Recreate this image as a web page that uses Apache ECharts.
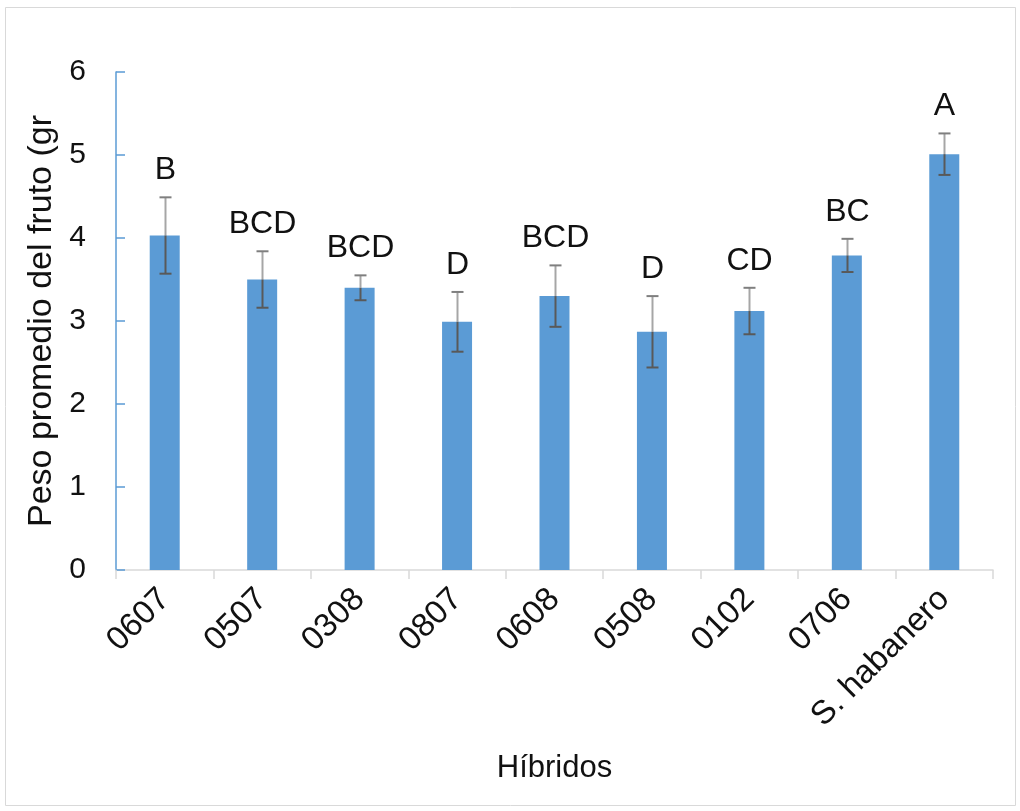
<!DOCTYPE html>
<html>
<head>
<meta charset="utf-8">
<script src="https://cdn.jsdelivr.net/npm/echarts@6/dist/echarts.min.js"></script>
<style>
  html, body { margin: 0; padding: 0; background: #fff; }
  #chart { width: 1020px; height: 811px; }
</style>
</head>
<body>
<div id="chart"></div>
<script>
// Hybrid fruit weight: mean, error and significance letter per hybrid
const categories = ['0607', '0507', '0308', '0807', '0608', '0508', '0102', '0706', 'S. habanero'];
const meanWeight = [4.03, 3.50, 3.40, 2.99, 3.30, 2.87, 3.12, 3.79, 5.01];
const errorAmount = [0.46, 0.34, 0.15, 0.36, 0.37, 0.43, 0.28, 0.20, 0.25];
const groupLetters = ['B', 'BCD', 'BCD', 'D', 'BCD', 'D', 'CD', 'BC', 'A'];

const FONT = '"Liberation Sans", Arial, sans-serif';

const errorData = categories.map((c, i) => [i, meanWeight[i], errorAmount[i], groupLetters[i]]);

const chart = echarts.init(document.getElementById('chart'), null, { renderer: 'canvas' });

chart.setOption({
  backgroundColor: '#ffffff',
  animation: false,
  graphic: [{
    type: 'rect',
    shape: { x: 5.5, y: 7.5, width: 1010, height: 798 },
    style: { fill: 'none', stroke: '#d9d9d9', lineWidth: 1 },
    silent: true
  }],
  grid: { left: 116, right: 27, top: 72, bottom: 241, containLabel: false },
  xAxis: {
    type: 'category',
    data: categories,
    name: 'Híbridos',
    nameLocation: 'middle',
    nameGap: 183,
    nameTextStyle: { fontFamily: FONT, fontSize: 31, color: '#111' },
    axisLine: { lineStyle: { color: '#d9d9d9', width: 1.5 } },
    axisTick: { show: true, alignWithLabel: false, length: 9, lineStyle: { color: '#d9d9d9', width: 1.5 } },
    axisLabel: { rotate: 45, margin: 24, fontFamily: FONT, fontSize: 33, color: '#111', interval: 0 }
  },
  yAxis: {
    type: 'value',
    min: 0,
    max: 6,
    interval: 1,
    name: 'Peso promedio del fruto (gr',
    nameLocation: 'middle',
    nameGap: 45,
    nameTextStyle: { fontFamily: FONT, fontSize: 34, color: '#111' },
    axisLine: { show: true, lineStyle: { color: '#5b9bd5', width: 1.5 } },
    axisTick: { show: true, inside: true, length: 9, lineStyle: { color: '#5b9bd5', width: 1.5 } },
    axisLabel: { margin: 30, fontFamily: FONT, fontSize: 30, color: '#111' },
    splitLine: { show: false }
  },
  series: [
    {
      type: 'bar',
      data: meanWeight,
      barWidth: 30,
      itemStyle: { color: '#5b9bd5' },
      z: 2
    },
    {
      type: 'custom',
      data: errorData,
      z: 3,
      renderItem: function (params, api) {
        const idx = api.value(0);
        const mean = api.value(1);
        const err = api.value(2);
        const top = api.coord([idx, mean + err]);
        const mid = api.coord([idx, mean]);
        const bot = api.coord([idx, mean - err]);
        const x = Math.round(top[0]) + 0.5;
        const cap = 6;
        const letter = groupLetters[params.dataIndex];
        return {
          type: 'group',
          children: [
            { type: 'line', shape: { x1: x, y1: top[1], x2: x, y2: mid[1] },
              style: { stroke: '#a6a6a6', lineWidth: 2 } },
            { type: 'line', shape: { x1: x, y1: mid[1], x2: x, y2: bot[1] },
              style: { stroke: '#595959', lineWidth: 2 } },
            { type: 'line', shape: { x1: x - cap, y1: top[1], x2: x + cap, y2: top[1] },
              style: { stroke: '#7f7f7f', lineWidth: 2 } },
            { type: 'line', shape: { x1: x - cap, y1: bot[1], x2: x + cap, y2: bot[1] },
              style: { stroke: '#595959', lineWidth: 2 } },
            { type: 'text',
              style: { text: letter, x: x, y: top[1] - 27, align: 'center', verticalAlign: 'middle',
                       fontFamily: FONT, fontSize: 32, fill: '#111' } }
          ]
        };
      }
    }
  ]
});
</script>
</body>
</html>
